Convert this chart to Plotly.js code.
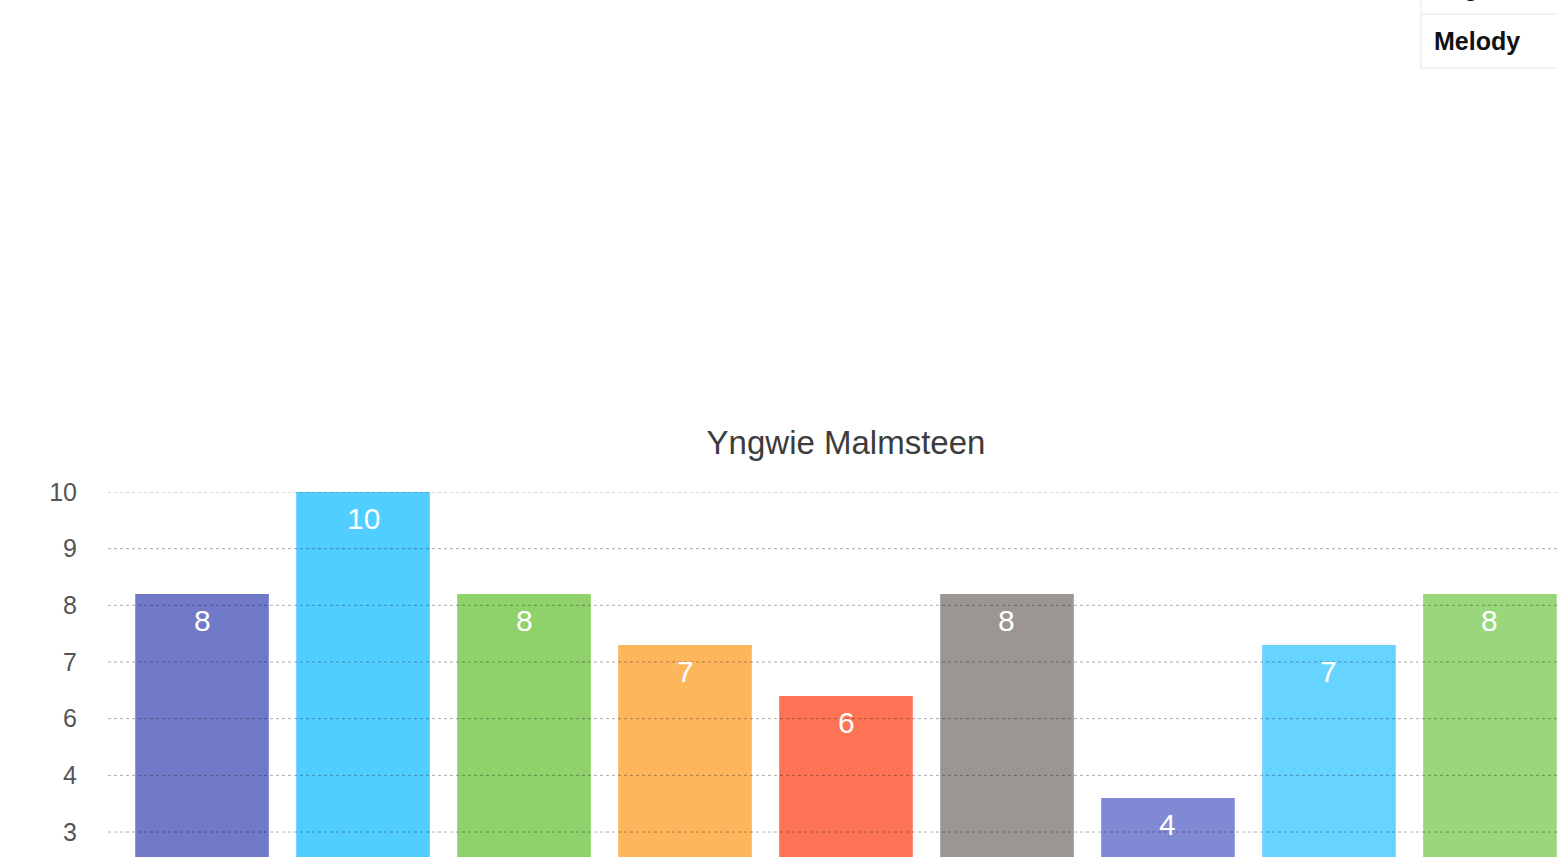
<!DOCTYPE html>
<html>
<head>
<meta charset="utf-8">
<script src="https://cdn.plot.ly/plotly-3.0.1.min.js"></script>
<style>
html, body { margin: 0; padding: 0; overflow: hidden; background: #fff; }
#chart { width: 1584px; height: 1050px; }
</style>
</head>
<body>
<div id="chart"></div>
<script>
// Data
const categories = ["Technique", "Speed", "Legato", "Rhythm", "Feel", "Tone", "Versatility", "Composition", "Melody"];
const values = [8, 10, 8, 7, 6, 8, 4, 7, 8];
const barColors = ["#717AC9", "#4FCEFF", "#8FD16A", "#FEB65D", "#FE7355", "#9B9691", "#8089D3", "#66D4FF", "#9AD67B"];
const tickValues = [1.111, 2.222, 3.333, 4.444, 5.556, 6.667, 7.778, 8.889, 10];
const tickLabels = ["1", "2", "3", "4", "6", "7", "8", "9", "10"];
const legendLabels = ["Legato", "Melody"];
const chartTitle = "Yngwie Malmsteen";

const FONT = "'Liberation Sans', Arial, Helvetica, sans-serif";
const H = 1050, T = 492, B = 48;
const plotH = H - T - B;
function py(pix) { return (H - B - pix) / plotH; } // pixel row -> paper y

const trace = {
  type: "bar",
  x: categories,
  y: values,
  width: 0.83,
  marker: { color: barColors, line: { width: 0 } },
  hoverinfo: "x+y",
  showlegend: false
};

// gridlines drawn above bars (faint dotted)
const shapes = tickValues.map(v => ({
  type: "line", xref: "paper", yref: "y", x0: 0, x1: 1, y0: v, y1: v,
  layer: "above", line: { color: "rgba(0,0,0,0.32)", width: 1, dash: "dot" }
}));

// legend box (table-like)
const lx = (1421 - 108) / 1476;
shapes.push({ type: "line", xref: "paper", yref: "paper", x0: lx, x1: lx, y0: py(-40), y1: py(68), line: { color: "#e6e6e6", width: 1 } });
shapes.push({ type: "line", xref: "paper", yref: "paper", x0: lx, x1: 1.2, y0: py(14), y1: py(14), line: { color: "#e6e6e6", width: 1 } });
shapes.push({ type: "line", xref: "paper", yref: "paper", x0: lx, x1: 1.2, y0: py(68), y1: py(68), line: { color: "#e6e6e6", width: 1 } });

const annotations = values.map((v, i) => ({
  x: categories[i], y: v, xref: "x", yref: "y", text: String(v),
  showarrow: false, yanchor: "middle", yshift: -26,
  font: { family: FONT, size: 30, color: "#ffffff" }
}));

const legendRows = [-13, 41];
legendLabels.forEach((t, i) => {
  annotations.push({
    x: (1432 - 108) / 1476, y: py(legendRows[i]), xref: "paper", yref: "paper",
    xanchor: "left", yanchor: "middle", showarrow: false, text: "<b>" + t + "</b>",
    font: { family: FONT, size: 25, color: "#111111" }
  });
});

const layout = {
  width: 1584, height: H,
  margin: { l: 108, r: 0, t: T, b: B },
  paper_bgcolor: "#ffffff", plot_bgcolor: "#ffffff",
  title: { text: chartTitle, x: 0.5, xref: "paper", y: 1 - 442 / H, yref: "container", yanchor: "middle", xanchor: "center",
           font: { family: FONT, size: 33, color: "#3c3c3c" } },
  xaxis: { type: "category", range: [-0.584, 8.584], showgrid: false, zeroline: false, showline: false, ticks: "",
           showticklabels: false },
  yaxis: { range: [0, 10], tickmode: "array", tickvals: tickValues, ticktext: tickLabels, showgrid: false, zeroline: false,
           showline: false, ticks: "", ticklabelstandoff: 30, tickfont: { family: FONT, size: 25, color: "#555555" } },
  shapes: shapes,
  annotations: annotations,
  showlegend: false
};

Plotly.newPlot("chart", [trace], layout, { displayModeBar: false, staticPlot: false });
</script>
</body>
</html>
